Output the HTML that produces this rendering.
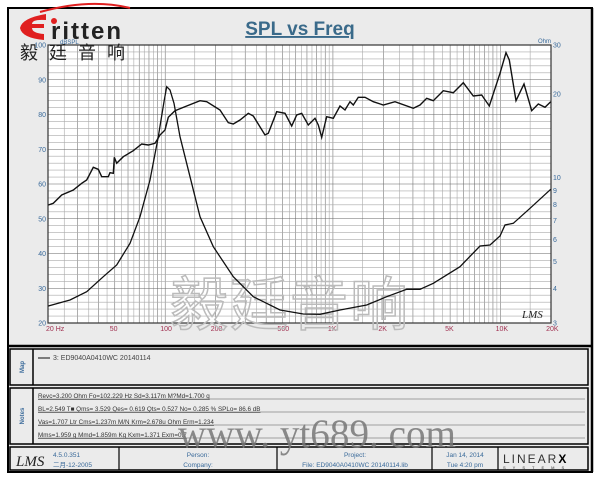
<!DOCTYPE html>
<html><head><meta charset="utf-8"><style>
html,body{margin:0;padding:0;background:#fff;}
body{width:600px;height:480px;overflow:hidden;position:relative;font-family:"Liberation Sans","Noto Sans CJK SC",sans-serif;}
</style></head><body>
<svg width="600" height="480" xmlns="http://www.w3.org/2000/svg" style="position:absolute;left:0;top:0">
<rect x="8" y="8" width="584" height="464" fill="#ebebeb" stroke="#000" stroke-width="2"/>
<path d="M40 12 Q90 -2 130 8" stroke="#e02020" stroke-width="2" fill="none"/>
<path d="M46 14 Q22 18 20 28 Q22 38 44 40 L44 34 Q32 33 32 28 L44 28 L44 24 L32 24 Q32 19 46 20 Z" fill="#e02020"/>
<circle cx="54" cy="21" r="3" fill="#e02020"/>
<text x="51" y="39" font-size="24" font-weight="bold" fill="#222" letter-spacing="2">ritten</text>
<text x="300" y="35" font-size="19" font-weight="bold" fill="#3a6a8a" text-anchor="middle" text-decoration="underline">SPL vs Freq</text>
<rect x="48" y="45" width="503" height="278" fill="#fff"/>
<g id="grid" stroke-width="0.6"></g>
<rect x="48" y="45" width="503" height="278" fill="none" stroke="#333" stroke-width="1.2"/>
<g font-size="18" fill="#222" font-family="Noto Sans CJK SC,sans-serif">
<text x="20" y="59">毅</text><text x="49" y="59">廷</text><text x="78" y="59">音</text><text x="107" y="59">响</text></g>
<g font-size="7" fill="#3a6a9a" text-anchor="end" id="ly"></g>
<g font-size="7" fill="#a03050" id="lx"></g>
<g font-size="7" fill="#3a6a9a" id="ry"></g>
<text x="60" y="44" font-size="6" fill="#3a6a9a">dBSPL</text>
<text x="538" y="43" font-size="6" fill="#3a6a9a">Ohm</text>
<text x="522" y="318" font-size="11" font-style="italic" fill="#222" font-family="Liberation Serif,serif">LMS</text>
<text x="170" y="325" font-size="58" fill="none" stroke="#bbb" stroke-width="1.5" font-family="Noto Sans CJK SC,sans-serif" letter-spacing="2">毅廷音响</text>
<polyline id="spl" fill="none" stroke="#111" stroke-width="1.4"/>
<polyline id="imp" fill="none" stroke="#111" stroke-width="1.3"/>
<line x1="8" y1="346" x2="592" y2="346" stroke="#000" stroke-width="2.5"/>
<rect x="10" y="349" width="578" height="36" fill="#ebebeb" stroke="#000" stroke-width="1.5"/>
<line x1="33" y1="349" x2="33" y2="385" stroke="#000" stroke-width="1.5"/>
<text transform="translate(24,367) rotate(-90)" font-size="6" font-weight="bold" fill="#3a6a9a" text-anchor="middle">Map</text>
<line x1="38" y1="358" x2="50" y2="358" stroke="#333" stroke-width="1.2"/>
<text x="53" y="360" font-size="7" fill="#444">3: ED9040A0410WC    20140114</text>
<rect x="10" y="388" width="578" height="56" fill="#ebebeb" stroke="#000" stroke-width="1.5"/>
<line x1="33" y1="388" x2="33" y2="444" stroke="#000" stroke-width="1.5"/>
<text transform="translate(24,416) rotate(-90)" font-size="6" font-weight="bold" fill="#3a6a9a" text-anchor="middle">Notes</text>
<g stroke="#555" stroke-width="0.6">
<line x1="38" y1="399" x2="585" y2="399"/><line x1="38" y1="412" x2="585" y2="412"/><line x1="38" y1="425" x2="585" y2="425"/><line x1="38" y1="438" x2="585" y2="438"/></g>
<g font-size="6.3" fill="#333" text-decoration="underline">
<text x="38" y="398">Revc=3.200 Ohm  Fo=102.229 Hz  Sd=3.117m M?Md=1.700 g</text>
<text x="38" y="411">BL=2.549 T■  Qms= 3.529  Qes= 0.619  Qts= 0.527  No= 0.285 %  SPLo= 86.6 dB</text>
<text x="38" y="424">Vas=1.707 Ltr  Cms=1.237m M/N  Krm=2.678u Ohm  Erm=1.234</text>
<text x="38" y="437">Mms=1.959 g  Mmd=1.859m Kg  Kxm=1.371 Exm=0.7</text></g>
<rect x="10" y="447" width="578" height="23" fill="#ebebeb" stroke="#000" stroke-width="1.5"/>
<g stroke="#000" stroke-width="1.2"><line x1="119" y1="447" x2="119" y2="470"/><line x1="277" y1="447" x2="277" y2="470"/><line x1="432" y1="447" x2="432" y2="470"/><line x1="498" y1="447" x2="498" y2="470"/></g>
<text x="16" y="466" font-size="15" font-style="italic" fill="#222" font-family="Liberation Serif,serif">LMS</text>
<g font-size="6.5" fill="#3a6a9a"><text x="53" y="457">4.5.0.351</text><text x="53" y="467">二月-12-2005</text>
<text x="198" y="457" text-anchor="middle">Person:</text><text x="198" y="467" text-anchor="middle">Company:</text>
<text x="355" y="457" text-anchor="middle">Project:</text><text x="355" y="467" text-anchor="middle">File: ED9040A0410WC  20140114.lib</text>
<text x="465" y="457" text-anchor="middle">Jan 14, 2014</text><text x="465" y="467" text-anchor="middle">Tue  4:20 pm</text></g>
<text x="503" y="463" font-size="12" fill="#333" letter-spacing="2">LINEAR<tspan font-weight="bold" fill="#000">X</tspan></text>
<text x="503" y="469" font-size="4" fill="#333" letter-spacing="7">SYSTEMS</text>
<text x="178" y="447" font-size="40" fill="#777" opacity="0.85" font-family="Liberation Serif,serif" textLength="278" lengthAdjust="spacingAndGlyphs">www. yt689. com</text>
<line x1="592" y1="8" x2="592" y2="472" stroke="#000" stroke-width="2.5"/>
</svg>
<script>
var ns="http://www.w3.org/2000/svg";
function X(f){return 48+167.7*Math.log10(f/20);}
function Y(db){return 323-(db-20)*3.475;}
function mk(p,t,a){var e=document.createElementNS(ns,t);for(var k in a)e.setAttribute(k,a[k]);p.appendChild(e);return e;}
var g=document.getElementById('grid');
[10,100,1000,10000].forEach(function(dec){for(var m=1;m<10;m+=0.5){var f=dec*m;if(f<20||f>20000)continue;var x=X(f);var major=(m%1==0);mk(g,'line',{x1:x,x2:x,y1:45,y2:323,stroke:major?'#777':'#aaa'});}});
for(var db=20;db<=100;db+=2){var y=Y(db);mk(g,'line',{x1:48,x2:551,y1:y,y2:y,stroke:db%10==0?'#666':'#aaa'});}
var ly=document.getElementById('ly');for(var db=20;db<=100;db+=10){var t=mk(ly,'text',{x:46,y:Y(db)+2.5});t.textContent=db;}
var lx=document.getElementById('lx');[[20,'20  Hz'],[50,'50'],[100,'100'],[200,'200'],[500,'500'],[1000,'1K'],[2000,'2K'],[5000,'5K'],[10000,'10K'],[20000,'20K']].forEach(function(a){var x=X(a[0]);var t=mk(lx,'text',{x:a[0]==20?x-2:x-5,y:331});t.textContent=a[1];});
var ry=document.getElementById('ry');[3,4,5,6,7,8,9,10,20,30].forEach(function(o){var t=mk(ry,'text',{x:553,y:323-278*Math.log10(o/3)+2.5});t.textContent=o;});
var spl=[48.3,205,53.3,203.3,61.7,195,73.3,190,81.7,183.3,86.7,180,93.3,167.3,98.3,169.3,101.7,176.7,108.3,176.7,110,172.7,113.3,173.3,114.3,157.3,116.7,163.3,123.3,156.7,133.3,150.7,141.7,144,148.3,145,155,143.3,160,135,165,130,168.3,117.3,175,110.7,186.7,106,200,100.7,206.7,101.7,220,110,228.3,122.7,233.3,124,240,120,248.3,113.3,253.3,116,265,135,268.3,133.3,276.7,111.7,285,113.3,291.7,126,296.7,115,301.7,113.3,308.3,125,315,118.3,318.3,125,321.7,137.3,326.7,116.7,333.3,118.3,340,106,345,110,350,101.7,353.3,105,358.3,97.3,365,97.3,373.3,101.7,383.3,105,395,101.7,413.3,108.3,420,105,426.7,98.3,433.3,100.7,443.3,90.7,453.3,92.7,463.3,82.7,473.3,96,481.7,95,489.3,106,500,73.3,506,52.7,509.3,60,516,100.7,524,84,531.7,110.7,538.3,104,545,107.3,550.7,101.7];
var imp=[48.3,306,70,300,86.7,291.7,103.3,276.7,116.7,265,130,243.3,140,216.7,150,180,158.3,136.7,164,101.7,166.7,86.7,170,90,174,103.3,180,136.7,190,176.7,200,216.7,213.3,246.7,233.3,276.7,253.3,296.7,280,310,303.3,314,320,314.3,340,310,366.7,305,386.7,296.7,406.7,289.3,420,289.3,433.3,283.3,460,266.7,480,246,490,245,500,236,505,225,513.3,223.3,530,208.3,550.7,189.3];
function pts(a){var s=[];for(var i=0;i<a.length;i+=2)s.push(a[i]+','+a[i+1]);return s.join(' ');}
document.getElementById('spl').setAttribute('points',pts(spl));
document.getElementById('imp').setAttribute('points',pts(imp));
</script>
</body></html>
